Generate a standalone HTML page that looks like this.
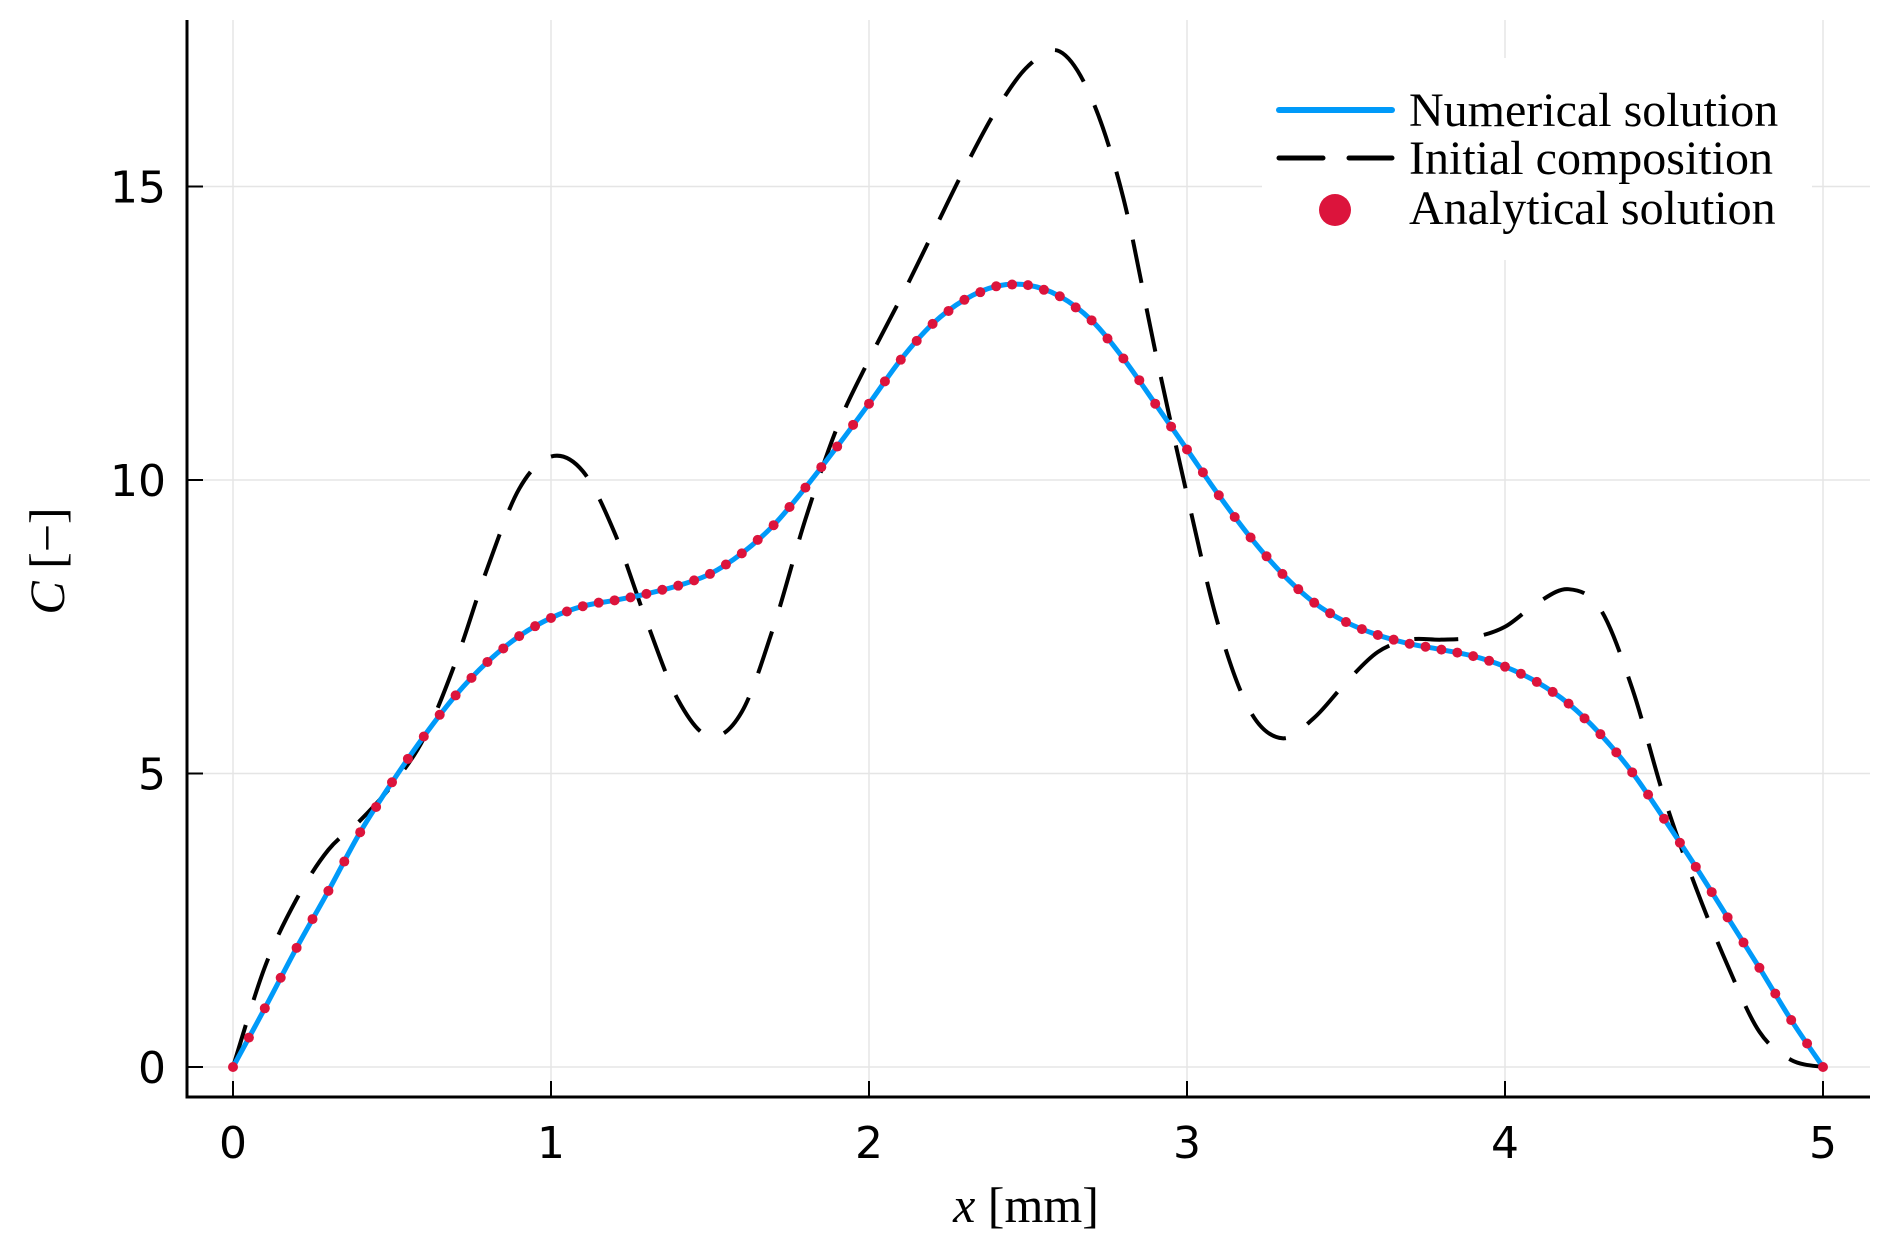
<!DOCTYPE html>
<html><head><meta charset="utf-8"><style>
body{margin:0;background:#fff}
svg{display:block}
.tk{font-family:"DejaVu Sans","Liberation Sans",sans-serif;font-size:44px;fill:#000}
.sr{font-family:"Liberation Serif",serif;fill:#000}
</style></head><body>
<svg id="chart" width="1892" height="1255" viewBox="0 0 1892 1255" xmlns="http://www.w3.org/2000/svg">
<g id="grid"></g>
<g id="series"></g>
<g id="axes"></g>
<text class="sr" x="1026" y="1222" font-size="50" text-anchor="middle"><tspan font-style="italic">x</tspan> [mm]</text>
<text class="sr" transform="translate(64,561) rotate(-90)" font-size="50" text-anchor="middle"><tspan font-style="italic">C</tspan> [−]</text>
<g>
<rect x="1262" y="58" width="550" height="202" fill="#fff"/>
<line x1="1279" y1="110" x2="1392" y2="110" stroke="#009af9" stroke-width="6" stroke-linecap="round"/>
<line x1="1279" y1="158" x2="1392" y2="158" stroke="#000" stroke-width="5" stroke-dasharray="44,26" stroke-linecap="round"/>
<circle cx="1335" cy="210" r="16" fill="#dc143c"/>
<text class="sr" x="1409" y="126" font-size="48">Numerical solution</text>
<text class="sr" x="1409" y="174" font-size="48">Initial composition</text>
<text class="sr" x="1409" y="224" font-size="48">Analytical solution</text>
</g>
</svg>
<script>
const xTicks=[0,1,2,3,4,5];
const yTicks=[0,5,10,15];
const numX=[0,0.1,0.2,0.3,0.4,0.5,0.6,0.7,0.8,0.9,1.0,1.1,1.2,1.3,1.4,1.5,1.6,1.7,1.8,1.9,2.0,2.1,2.2,2.3,2.4,2.5,2.6,2.7,2.8,2.9,3.0,3.1,3.2,3.3,3.4,3.5,3.6,3.7,3.8,3.9,4.0,4.1,4.2,4.3,4.4,4.5,4.6,4.7,4.8,4.9,5.0];
const numY=[0,1.0,2.03,3.0,4.0,4.85,5.63,6.33,6.9,7.34,7.65,7.85,7.95,8.06,8.2,8.4,8.75,9.23,9.87,10.57,11.3,12.05,12.66,13.07,13.3,13.32,13.13,12.72,12.07,11.3,10.52,9.74,9.02,8.4,7.91,7.58,7.36,7.21,7.11,7.0,6.82,6.56,6.19,5.67,5.02,4.23,3.41,2.55,1.69,0.8,0];
const initY=[0,1.7,2.86,3.7,4.2,4.8,5.6,6.9,8.5,9.85,10.4,10.15,9.1,7.6,6.25,5.63,6.05,7.5,9.33,10.9,12.05,13.1,14.2,15.3,16.3,17.05,17.3,16.5,14.8,12.2,9.75,7.5,6.05,5.6,5.95,6.55,7.07,7.28,7.28,7.32,7.5,7.9,8.14,7.8,6.45,4.6,3.06,1.73,0.6,0.12,0];
const anaX=[0,0.05,0.1,0.15,0.2,0.25,0.3,0.35,0.4,0.45,0.5,0.55,0.6,0.65,0.7,0.75,0.8,0.85,0.9,0.95,1.0,1.05,1.1,1.15,1.2,1.25,1.3,1.35,1.4,1.45,1.5,1.55,1.6,1.65,1.7,1.75,1.8,1.85,1.9,1.95,2.0,2.05,2.1,2.15,2.2,2.25,2.3,2.35,2.4,2.45,2.5,2.55,2.6,2.65,2.7,2.75,2.8,2.85,2.9,2.95,3.0,3.05,3.1,3.15,3.2,3.25,3.3,3.35,3.4,3.45,3.5,3.55,3.6,3.65,3.7,3.75,3.8,3.85,3.9,3.95,4.0,4.05,4.1,4.15,4.2,4.25,4.3,4.35,4.4,4.45,4.5,4.55,4.6,4.65,4.7,4.75,4.8,4.85,4.9,4.95,5.0];
const anaY=[0,0.5,1.0,1.52,2.03,2.52,3.0,3.5,4.0,4.43,4.85,5.25,5.63,6.0,6.33,6.63,6.9,7.13,7.34,7.51,7.65,7.76,7.85,7.91,7.95,8.0,8.06,8.13,8.2,8.29,8.4,8.56,8.75,8.98,9.23,9.54,9.87,10.22,10.57,10.94,11.3,11.68,12.05,12.37,12.66,12.88,13.07,13.2,13.3,13.33,13.32,13.24,13.13,12.94,12.72,12.41,12.07,11.7,11.3,10.91,10.52,10.13,9.74,9.37,9.02,8.7,8.4,8.14,7.91,7.73,7.58,7.46,7.36,7.28,7.21,7.16,7.11,7.06,7.0,6.92,6.82,6.7,6.56,6.39,6.19,5.94,5.67,5.36,5.02,4.64,4.23,3.82,3.41,2.98,2.55,2.12,1.69,1.25,0.8,0.4,0];
const X0=233,X1=1823,Y0=1067,YPU=58.7;
const sx=v=>X0+(X1-X0)*v/5, sy=v=>Y0-YPU*v;
const NS='http://www.w3.org/2000/svg';
function mk(tag,attrs,parent){const e=document.createElementNS(NS,tag);for(const k in attrs)e.setAttribute(k,attrs[k]);parent.appendChild(e);return e;}
const grid=document.getElementById('grid'),axes=document.getElementById('axes'),ser=document.getElementById('series');
const L=187,R=1870,T=20,B=1097;
xTicks.forEach(t=>{
 const g=mk('line',{x1:sx(t),x2:sx(t),y1:T,y2:B,stroke:'#e5e5e5','stroke-width':1.5},grid);
 
 
 const tk=mk('line',{x1:sx(t),x2:sx(t),y1:B,y2:B-16,stroke:'#000','stroke-width':2},axes);
 
 
 const tx=mk('text',{x:sx(t),y:1158,'text-anchor':'middle',class:'tk'},axes);tx.textContent=t;
 
 
});
yTicks.forEach(t=>{
 const g=mk('line',{x1:L,x2:R,y1:sy(t),y2:sy(t),stroke:'#e5e5e5','stroke-width':1.5},grid);
 
 
 const tk=mk('line',{x1:L,x2:L+16,y1:sy(t),y2:sy(t),stroke:'#000','stroke-width':2},axes);
 
 
 const tx=mk('text',{x:166,y:sy(t)+16,'text-anchor':'end',class:'tk'},axes);tx.textContent=t;
 
 
});
const ax=mk('path',{d:`M${L},${T} V${B} H${R}`,fill:'none',stroke:'#000','stroke-width':3},axes);


function smooth(xs,ys){let d='';const p=xs.map((x,i)=>[sx(x),sy(ys[i])]);
 d='M'+p[0][0]+','+p[0][1];
 for(let i=0;i<p.length-1;i++){const a=p[Math.max(i-1,0)],b=p[i],c=p[i+1],e=p[Math.min(i+2,p.length-1)];
  d+=` C${b[0]+(c[0]-a[0])/6},${b[1]+(c[1]-a[1])/6} ${c[0]-(e[0]-b[0])/6},${c[1]-(e[1]-b[1])/6} ${c[0]},${c[1]}`;}
 return d;}
const ini=mk('path',{d:smooth(numX,initY),fill:'none',stroke:'#000','stroke-width':4,'stroke-dasharray':'44,26'},ser);


const num=mk('path',{d:smooth(numX,numY),fill:'none',stroke:'#009af9','stroke-width':5},ser);


anaX.forEach((x,i)=>{const c=mk('circle',{cx:sx(x),cy:sy(anaY[i]),r:5,fill:'#dc143c'},ser);
 
 });
</script>
</body></html>
